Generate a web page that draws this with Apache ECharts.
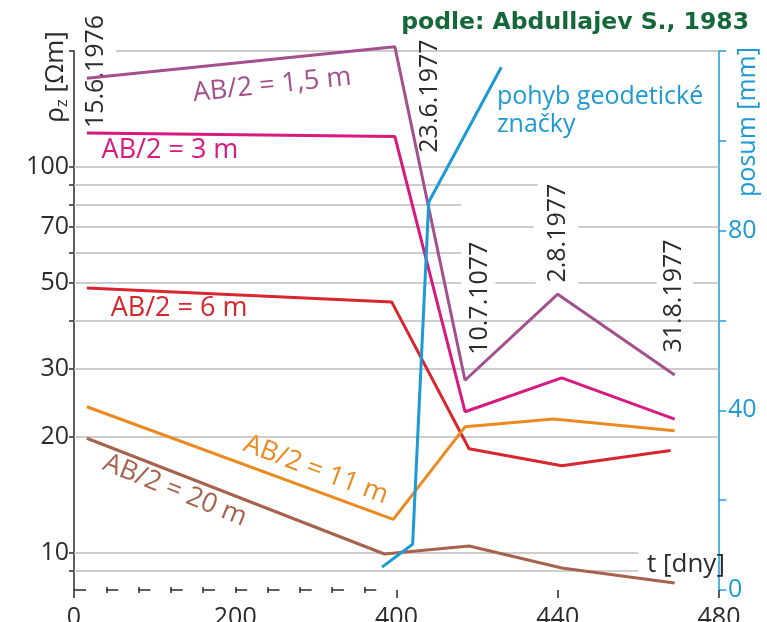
<!DOCTYPE html>
<html>
<head>
<meta charset="utf-8">
<script src="https://cdn.jsdelivr.net/npm/echarts@6/dist/echarts.min.js"></script>
<style>
  html, body { margin: 0; padding: 0; background: #fff; }
  #chart { width: 767px; height: 622px; }
</style>
</head>
<body>
<div id="chart"></div>
<script>
// ---- data -------------------------------------------------------------
// measurement dates shown along the profile
const dateLabels = ['15.6.1976', '23.6.1977', '10.7.1077', '2.8.1977', '31.8.1977'];
const seriesNames = ['AB/2 = 1,5 m', 'AB/2 = 3 m', 'AB/2 = 6 m', 'AB/2 = 11 m', 'AB/2 = 20 m'];

// apparent resistivity rho_z [Ohm m] for each half-spacing, t in days
const daysAB15 = [16, 398, 417, 440, 469];
const rhoAB15  = [170, 205, 28.0, 46.8, 28.9];
const daysAB3  = [16, 398, 417, 441, 469];
const rhoAB3   = [122.5, 120, 23.2, 28.4, 22.2];
const daysAB6  = [16, 394, 418, 441, 468];
const rhoAB6   = [48.6, 44.7, 18.6, 16.8, 18.4];
const daysAB11 = [16, 396, 417, 439, 469];
const rhoAB11  = [23.9, 12.2, 21.2, 22.2, 20.7];
const daysAB20 = [16, 385, 418, 441, 469];
const rhoAB20  = [19.8, 9.92, 10.4, 9.12, 8.34];

// displacement of the geodetic mark [mm]
const daysMark  = [382, 404, 408, 426];
const posumMark = [5.1, 10.2, 86.4, 116.4];

// axis ticks
const xLabelDays     = [0, 200, 400, 440, 480];
const xMajorTickDays = [0, 400, 440, 480];
const xMinorTickDays = [40, 80, 120, 160, 200, 240, 280, 320, 360];
const rhoTickValues  = [9, 10, 20, 30, 40, 50, 60, 70, 80, 90, 100, 200];
const rhoLabelValues = [10, 20, 30, 50, 70, 100];
const posumLabelValues = [0, 40, 80];

// ---- time axis: 0-400 d squeezed 5x, 400-480 d at full scale ---------
const BREAK = 400, SQUEEZE = 5;
const toAxis = t => t <= BREAK ? t / SQUEEZE : BREAK / SQUEEZE + (t - BREAK);
const fromAxis = u => u <= BREAK / SQUEEZE ? u * SQUEEZE : BREAK + (u - BREAK / SQUEEZE);
const pairs = (days, vals) => days.map((d, i) => [toAxis(d), vals[i]]);

const FONT = '"Open Sans", "Noto Sans", sans-serif';
const INK = '#2b2b2b';
const BLUE = '#1d9ad5';
const colors = ['#a3508e', '#d8197f', '#d7262d', '#ec8a22', '#a5624d'];

// horizontal reference lines: [value, [[fromDay, toDay], ...]]
const gridRuns = [
  [200, [[52, 480]]],
  [100, [[0, 480]]],
  [90,  [[0, 435]]],
  [80,  [[0, 416]]],
  [70,  [[0, 434], [445, 480]]],
  [60,  [[0, 416]]],
  [50,  [[0, 416], [424.5, 434.5], [445, 464.5], [473.5, 480]]],
  [40,  [[0, 480]]],
  [30,  [[0, 480]]],
  [20,  [[0, 480]]],
  [10,  [[0, 460]]],
  [9,   [[0, 460]]]
];

const refLines = [];
gridRuns.forEach(([v, runs]) => runs.forEach(([a, b]) => {
  refLines.push([{ coord: [toAxis(a), v], lineStyle: { color: '#bdbdbd', width: 1.5, type: 'solid' } },
                 { coord: [toAxis(b), v] }]);
}));
// time axis baseline: dashed over the squeezed part, solid afterwards
refLines.push([{ coord: [0, 8], lineStyle: { color: INK, width: 1.5, type: [12, 20.25] } },
               { coord: [toAxis(BREAK), 8] }]);
refLines.push([{ coord: [toAxis(BREAK), 8], lineStyle: { color: INK, width: 1.5, type: 'solid' } },
               { coord: [toAxis(482.5), 8] }]);

const rhoSets = [[daysAB15, rhoAB15], [daysAB3, rhoAB3], [daysAB6, rhoAB6], [daysAB11, rhoAB11], [daysAB20, rhoAB20]];

const series = [{
  type: 'line', data: [], xAxisIndex: 0, yAxisIndex: 0, silent: true,
  markLine: { silent: true, z: 1, symbol: ['none', 'none'], label: { show: false }, animation: false, data: refLines }
}];
rhoSets.forEach(([d, v], i) => series.push({
  name: seriesNames[i], type: 'line', xAxisIndex: 0, yAxisIndex: 0, z: 3,
  data: pairs(d, v), showSymbol: false, symbol: 'none', clip: false, animation: false,
  lineStyle: { color: colors[i], width: 3 }
}));
series.push({
  name: 'pohyb geodetické značky', type: 'line', xAxisIndex: 0, yAxisIndex: 1, z: 4,
  data: pairs(daysMark, posumMark), showSymbol: false, symbol: 'none', clip: false, animation: false,
  lineStyle: { color: BLUE, width: 3 }
});

const tickLine = { color: INK, width: 1.5 };
const option = {
  animation: false,
  backgroundColor: '#fff',
  grid: { left: 74, right: 48, top: 51, bottom: 32, containLabel: false, outerBoundsMode: 'none' },
  xAxis: [{
    type: 'value', min: 0, max: toAxis(480), position: 'bottom',
    axisLine: { show: false, onZero: false },
    axisTick: { show: true, customValues: xMajorTickDays.map(toAxis), length: 8, lineStyle: tickLine },
    axisLabel: { customValues: xLabelDays.map(toAxis), formatter: u => String(Math.round(fromAxis(u))),
                 fontFamily: FONT, fontSize: 25, color: INK, margin: 15 },
    splitLine: { show: false }
  }, {
    type: 'value', min: 0, max: toAxis(480), position: 'bottom', offset: -3,
    axisLine: { show: false, onZero: false },
    axisTick: { show: true, customValues: xMinorTickDays.map(toAxis), length: 6, lineStyle: tickLine },
    axisLabel: { show: false },
    splitLine: { show: false }
  }],
  yAxis: [{
    type: 'log', logBase: 10, min: 8, max: 200, position: 'left',
    axisLine: { show: true, onZero: false, lineStyle: tickLine },
    axisTick: { show: true, customValues: rhoTickValues, length: 5, lineStyle: tickLine },
    axisLabel: { customValues: rhoLabelValues, fontFamily: FONT, fontSize: 25, color: INK, margin: 5 },
    splitLine: { show: false }
  }, {
    type: 'value', min: 0, max: 120, interval: 20, position: 'right',
    axisLine: { show: true, onZero: false, lineStyle: { color: BLUE, width: 1.5 } },
    axisTick: { show: true, length: 7, lineStyle: { color: BLUE, width: 1.5 } },
    axisLabel: { formatter: v => posumLabelValues.includes(v) ? String(v) : '',
                 fontFamily: FONT, fontSize: 25, color: BLUE, margin: 9 },
    splitLine: { show: false }
  }],
  series: series
};

const chart = echarts.init(document.getElementById('chart'));
chart.setOption(option);

// ---- text annotations anchored in (day, rho) space --------------------
const at = (day, value) => chart.convertToPixel({ seriesIndex: 1 }, [toAxis(day), value]);
function note(text, p, o) {
  return {
    type: 'text', x: p[0], y: p[1], rotation: (o.rot || 0) * Math.PI / 180, z: 2, silent: true,
    style: {
      text: text, fill: o.color || INK, fontFamily: o.family || FONT, fontSize: o.size || 25,
      fontWeight: o.weight || 'normal', lineHeight: o.lineHeight,
      align: o.align || 'center', verticalAlign: o.valign || 'middle',
      textAlign: o.align || 'center', textVerticalAlign: o.valign || 'middle',
      rich: o.rich
    }
  };
}

const dateAnchors = [[27, 177], [408.3, 152.8], [420.7, 45.7], [440.1, 67.4], [468.8, 46.3]];
const nameAnchors = [[245.7, 163, 6], [119, 110.7, 0], [130.3, 43.1, 0], [300, 16.4, -20.5], [125.3, 14.5, -22]];

const elements = [];
dateLabels.forEach((t, i) => elements.push(note(t, at(dateAnchors[i][0], dateAnchors[i][1]), { rot: 90, size: 25 })));
seriesNames.forEach((t, i) => elements.push(
  note(t, at(nameAnchors[i][0], nameAnchors[i][1]), { rot: nameAnchors[i][2], size: 27, color: colors[i] })));
elements.push(note('pohyb geodetické\nznačky', at(424.9, 165), { color: BLUE, size: 25, align: 'left', valign: 'top', lineHeight: 28 }));
elements.push(note('t [dny]', at(471.8, 9.29), { size: 26 }));

// axis titles and source note
elements.push(note('podle: Abdullajev S., 1983', [749, 23],
  { align: 'right', family: '"DejaVu Sans", Verdana, sans-serif', weight: 'bold', size: 23.5, color: '#15683a' }));
elements.push(note('posum [mm]', [748, 122], { rot: 90, color: BLUE, size: 25 }));
elements.push(note('{a|ρ}{b|z}{a| [Ωm]}', [56, 77], {
  rot: 90, size: 25,
  rich: {
    a: { fontFamily: FONT, fontSize: 26, fill: INK, color: INK, lineHeight: 30 },
    b: { fontFamily: FONT, fontSize: 17, fill: INK, color: INK, lineHeight: 30, verticalAlign: 'bottom', padding: [12, 0, 0, 0] }
  }
}));

chart.setOption({ graphic: { elements: elements } });
</script>
</body>
</html>
